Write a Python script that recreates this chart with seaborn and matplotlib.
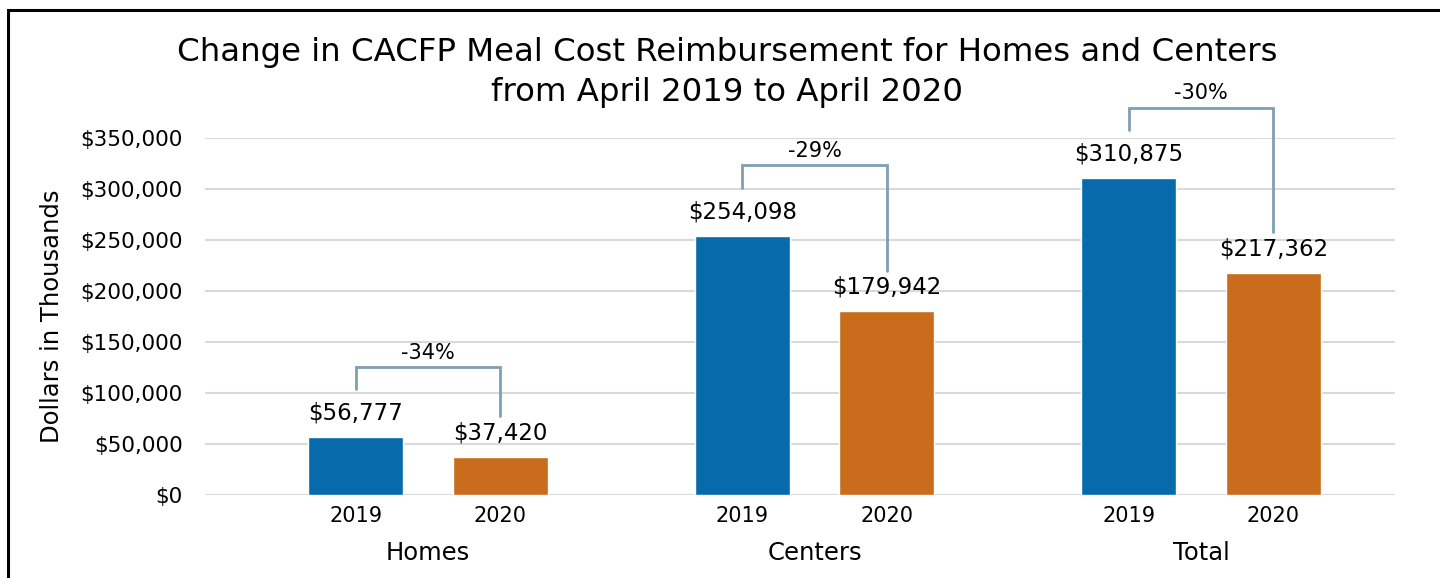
import matplotlib
matplotlib.use("Agg")
import matplotlib.pyplot as plt
import matplotlib.patches as mpatches
import matplotlib.transforms as mtrans
import seaborn as sns
import pandas as pd

# ---- data ----
categories = ["Homes", "Centers", "Total"]
years = ["2019", "2020"]
values_2019 = [56777, 254098, 310875]
values_2020 = [37420, 179942, 217362]
pct_change = ["-34%", "-29%", "-30%"]
ytick_values = [0, 50000, 100000, 150000, 200000, 250000, 300000, 350000]

title_lines = ["Change in CACFP Meal Cost Reimbursement for Homes and Centers",
               "from April 2019 to April 2020"]
ylabel = "Dollars in Thousands"

colors = {"2019": "#066AAB", "2020": "#C96C1B"}

rows = []
for c, a, b in zip(categories, values_2019, values_2020):
    rows.append({"cat": c, "year": "2019", "val": a})
    rows.append({"cat": c, "year": "2020", "val": b})
df = pd.DataFrame(rows)

sns.set_theme(style="white")
FONT = "DejaVu Sans"
plt.rcParams["font.family"] = [FONT]
plt.rcParams["text.color"] = "black"
plt.rcParams["axes.labelcolor"] = "black"
plt.rcParams["xtick.color"] = "black"
plt.rcParams["ytick.color"] = "black"

fig = plt.figure(figsize=(14.4, 5.78), dpi=100)
ax = fig.add_axes([205/1440, 1-495/578, 1190/1440, 357/578])

sns.barplot(data=df, x="cat", y="val", hue="year", order=categories,
            hue_order=years, palette=colors, width=0.748, gap=0.342,
            saturation=1, ax=ax, legend=False, errorbar=None)

ax.set_ylim(0, 350000)
ax.set_xlim(-0.577, 2.502)
ax.set_yticks(ytick_values)
ax.set_yticklabels([f"${v:,.0f}" for v in ytick_values], fontsize=15.5)
ax.tick_params(axis="y", length=0, pad=16)
ax.grid(axis="y", color="#d9d9d9", linewidth=1.5)
ax.set_axisbelow(True)
for s in ax.spines.values():
    s.set_visible(False)
ax.set_ylabel(ylabel, fontsize=17.5, labelpad=12)
ax.set_xlabel("")

# bars: collect centers / heights
bars = sorted(ax.patches, key=lambda p: p.get_x())
centers = [p.get_x() + p.get_width()/2 for p in bars]
heights = [p.get_height() for p in bars]

ax.set_xticks(centers)
ax.set_xticklabels([years[i % 2] for i in range(len(bars))], fontsize=15)
ax.tick_params(axis="x", length=0, pad=8)

# category labels
trans = mtrans.blended_transform_factory(ax.transData, ax.transAxes)
for i, c in enumerate(categories):
    ax.text(i, -0.163, c, transform=trans, ha="center", va="center", fontsize=17.5)

# data labels
for x, h in zip(centers, heights):
    ax.annotate(f"${h:,.0f}", (x, h), xytext=(0, 9), textcoords="offset points",
                ha="center", va="bottom", fontsize=16.5)

# brackets
bcol = "#7F9FB3"
for i in range(len(categories)):
    x1, x2 = centers[2*i], centers[2*i+1]
    v1, v2 = heights[2*i], heights[2*i+1]
    top = v1 + 69000
    ax.plot([x1, x1, x2, x2], [v1 + 47000, top, top, v2 + 40000],
            color=bcol, linewidth=2, clip_on=False, solid_joinstyle="miter")
    ax.text((x1 + x2)/2, top + 4000, pct_change[i], ha="center", va="bottom",
            fontsize=15)

fig.text(727/1440, 1-52/578, title_lines[0], ha="center", va="center", fontsize=23.3)
fig.text(727/1440, 1-92/578, title_lines[1], ha="center", va="center", fontsize=23.3)

# outer frame
frame = mpatches.Rectangle((8/1440, -0.5), 2, 0.5 + 1 - 10/578,
                           transform=fig.transFigure, fill=False,
                           edgecolor="black", linewidth=2.2, clip_on=False)
fig.patches.append(frame)

fig.savefig("out.png", dpi=100)
